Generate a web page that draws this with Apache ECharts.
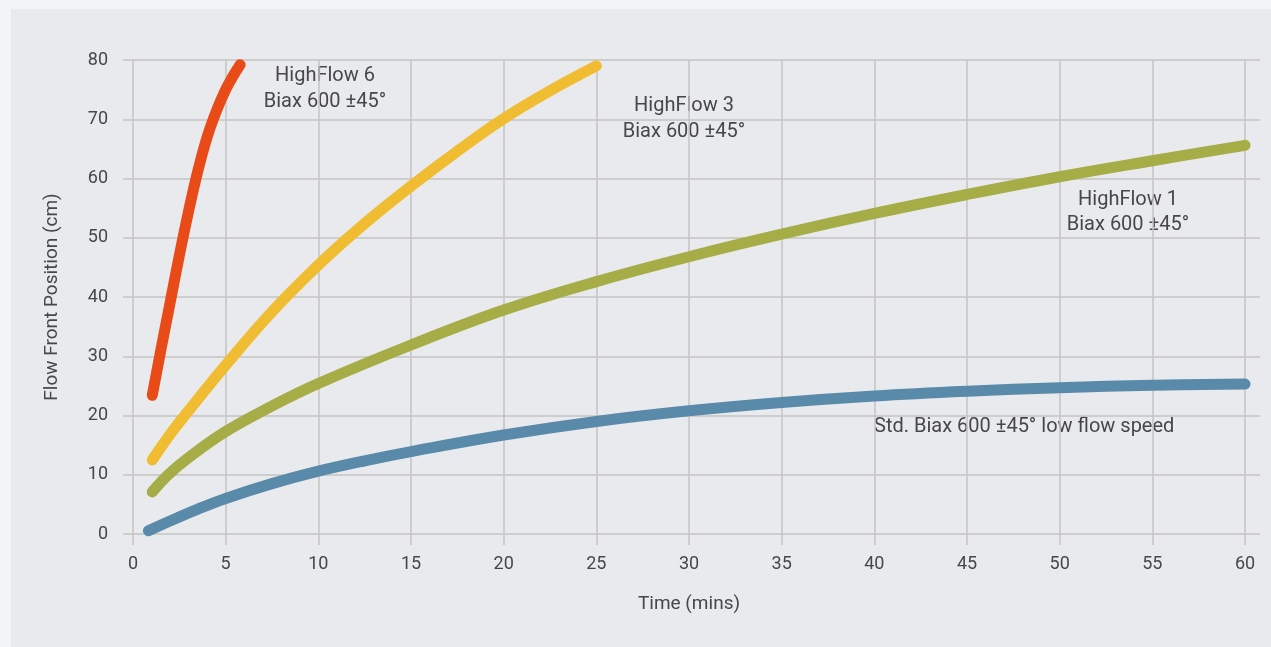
<!DOCTYPE html>
<html><head><meta charset="utf-8">
<script src="https://cdn.jsdelivr.net/npm/echarts@6/dist/echarts.min.js"></script>
<style>
html,body{margin:0;padding:0;width:1271px;height:647px;background:#f3f4f6;overflow:hidden}
#panel{position:absolute;left:11px;top:9px;right:0;bottom:0;background:#e8eaed}
#c{position:absolute;left:0;top:0;width:1271px;height:647px}
</style></head>
<body><div id="panel"></div><div id="c"></div>
<script>
const xTicks = [0,5,10,15,20,25,30,35,40,45,50,55,60];
const yTicks = [0,10,20,30,40,50,60,70,80];
const highFlow6 = [[1.04,23.4],[1.5,31],[2,39],[2.5,47],[3,54.5],[3.5,61.3],[4,67],[4.5,71.4],[5,75.0],[5.4,77.3],[5.78,79.2]];
const highFlow3 = [[1.04,12.5],[2,16.8],[3,20.8],[5,28.5],[7.5,37.5],[10,45.4],[12.5,52.4],[15,58.7],[17.5,64.6],[20,70.1],[22.5,74.8],[25,79]];
const highFlow1 = [[1.04,7.1],[1.9,10],[3,12.9],[5,17.3],[7.5,21.6],[10,25.4],[15,31.9],[20,37.8],[25,42.6],[30,46.8],[35,50.6],[40,54.1],[45,57.3],[50,60.3],[55,63.0],[60,65.6]];
const stdBiax = [[0.83,0.55],[2,2.2],[3.5,4.2],[5,6.0],[7.5,8.5],[10,10.6],[12.5,12.35],[15,13.9],[20,16.7],[25,19.0],[30,20.8],[35,22.2],[40,23.3],[45,24.1],[50,24.7],[55,25.1],[60,25.3]];
const seriesNames = ['HighFlow 6 Biax 600 ±45°','HighFlow 3 Biax 600 ±45°','HighFlow 1 Biax 600 ±45°','Std. Biax 600 ±45° low flow speed'];
const colors = ['#e84b17','#f0bc32','#a6ad46','#5a8aa9'];

const chart = echarts.init(document.getElementById('c'));
const gridColor = '#c6c3c3';
const txt = '#474747';
const font = 'Roboto';
function line(name, data, color){
  return {name, type:'line', data, smooth:0.4, symbol:'none', silent:true,
    lineStyle:{width:11, color, cap:'round', join:'round'}};
}
chart.setOption({
  animation:false,
  textStyle:{fontFamily:font},
  grid:{left:133, right:26, top:60, bottom:113, containLabel:false},
  xAxis:{type:'value', min:0, max:60, interval:5,
    name:'Time (mins)', nameLocation:'middle', nameGap:61,
    nameTextStyle:{color:txt, fontSize:19, fontFamily:font},
    axisLine:{show:false},
    axisTick:{show:true, length:11, lineStyle:{color:gridColor, width:1.5}},
    axisLabel:{color:txt, fontSize:18, margin:21, fontFamily:font},
    splitLine:{show:true, lineStyle:{color:gridColor, width:1.5}}},
  yAxis:[{type:'value', min:0, max:80, interval:10,
    name:'Flow Front Position (cm)', nameLocation:'middle', nameGap:71,
    nameTextStyle:{color:txt, fontSize:19, fontFamily:font},
    axisLine:{show:false},
    axisTick:{show:true, length:10, lineStyle:{color:gridColor, width:1.5}},
    axisLabel:{color:txt, fontSize:18, margin:25, fontFamily:font},
    splitLine:{show:true, lineStyle:{color:gridColor, width:1.5}}},
   {type:'value', min:0, max:80, interval:10, position:'right',
    axisLine:{show:false}, axisLabel:{show:false}, splitLine:{show:false},
    axisTick:{show:true, length:15, lineStyle:{color:gridColor, width:1.5}}}],
  series:[
    line(seriesNames[3], stdBiax, colors[3]),
    line(seriesNames[2], highFlow1, colors[2]),
    line(seriesNames[1], highFlow3, colors[1]),
    line(seriesNames[0], highFlow6, colors[0])
  ],
  graphic:[
    {type:'text', x:325, y:63, style:{text:'HighFlow 6\nBiax 600 ±45°', fill:txt, font:'20px Roboto', align:'center', lineHeight:26}},
    {type:'text', x:684, y:93, style:{text:'HighFlow 3\nBiax 600 ±45°', fill:txt, font:'20px Roboto', align:'center', lineHeight:26}},
    {type:'text', x:1128, y:187, style:{text:'HighFlow 1\nBiax 600 ±45°', fill:txt, font:'20px Roboto', align:'center', lineHeight:25}},
    {type:'text', x:874, y:417, style:{text:'Std. Biax 600 ±45° low flow speed', fill:txt, font:'20px Roboto'}}
  ]
});
</script></body></html>
